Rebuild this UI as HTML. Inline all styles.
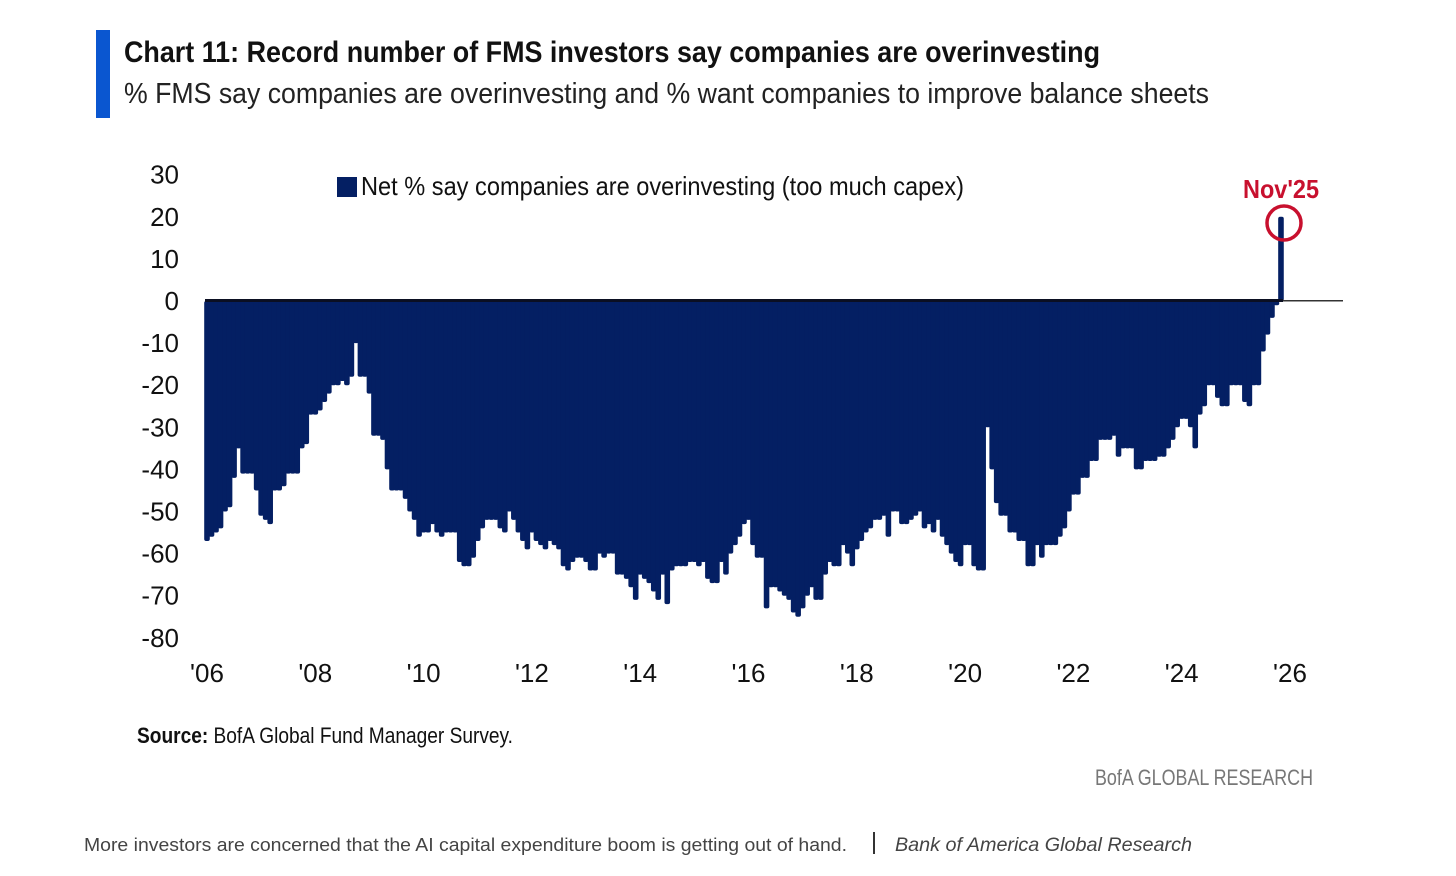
<!DOCTYPE html>
<html><head><meta charset="utf-8"><style>
body{margin:0;background:#fff;}
svg{display:block;font-family:"Liberation Sans Narrow","Liberation Sans",sans-serif;}
</style></head><body>
<svg id="chart" width="1456" height="876" viewBox="0 0 1456 876">
<rect x="96" y="30" width="14" height="88" fill="#0a56d0"/>
<text x="124" y="62" font-size="30" font-weight="bold" fill="#111" textLength="976" lengthAdjust="spacingAndGlyphs">Chart 11: Record number of FMS investors say companies are overinvesting</text>
<text x="124" y="103" font-size="29" fill="#222" textLength="1085" lengthAdjust="spacingAndGlyphs">% FMS say companies are overinvesting and % want companies to improve balance sheets</text>
<g id="yaxis"></g>
<g id="xaxis"></g>
<g id="bars"></g>
<rect x="337" y="177" width="20" height="20" fill="#041f63"/>
<text x="361" y="195" font-size="26" fill="#111" textLength="603" lengthAdjust="spacingAndGlyphs">Net % say companies are overinvesting (too much capex)</text>
<text x="1281" y="198" font-size="26" font-weight="bold" fill="#c8102e" text-anchor="middle" textLength="76" lengthAdjust="spacingAndGlyphs">Nov'25</text>
<circle cx="1284" cy="223" r="17" fill="none" stroke="#c8102e" stroke-width="3.5"/>
<text x="137" y="743" font-size="22" fill="#111" textLength="376" lengthAdjust="spacingAndGlyphs"><tspan font-weight="bold">Source:</tspan> BofA Global Fund Manager Survey.</text>
<text x="1095" y="785" font-size="22" fill="#777" textLength="218" lengthAdjust="spacingAndGlyphs">BofA GLOBAL RESEARCH</text>
<text x="84" y="851" font-size="18" fill="#444" font-family="Liberation Sans, sans-serif" textLength="763" lengthAdjust="spacingAndGlyphs">More investors are concerned that the AI capital expenditure boom is getting out of hand.</text>
<rect x="873" y="832" width="2" height="22" fill="#333"/>
<text x="895" y="851" font-size="19" fill="#444" font-style="italic" font-family="Liberation Sans, sans-serif" textLength="297" lengthAdjust="spacingAndGlyphs">Bank of America Global Research</text>
</svg>
<script>
const yTicks=[30,20,10,0,-10,-20,-30,-40,-50,-60,-70,-80];
const xTickLabels=["'06","'08","'10","'12","'14","'16","'18","'20","'22","'24","'26"];
const xTickYears=[2006,2008,2010,2012,2014,2016,2018,2020,2022,2024,2026];
const startYear=2006;
const values=[
-57,-56,-55,-54,-50,-49,-42,-35,-41,-41,-41,-45,
-51,-52,-53,-45,-45,-44,-41,-41,-41,-35,-34,-27,
-27,-26,-24,-22,-20,-20,-19,-20,-18,-10,-18,-18,
-22,-32,-32,-33,-40,-45,-45,-45,-47,-50,-52,-56,
-55,-55,-53,-55,-56,-55,-55,-55,-62,-63,-63,-61,
-57,-54,-52,-52,-52,-54,-55,-50,-52,-55,-57,-59,
-55,-57,-58,-59,-57,-58,-59,-63,-64,-62,-61,-61,
-62,-64,-64,-60,-61,-60,-60,-65,-65,-66,-68,-71,
-65,-66,-67,-69,-71,-65,-72,-64,-63,-63,-63,-62,
-62,-63,-62,-66,-67,-67,-62,-65,-60,-58,-56,-53,
-52,-58,-61,-61,-73,-68,-68,-69,-70,-71,-74,-75,
-73,-70,-68,-71,-71,-65,-62,-63,-63,-58,-60,-63,
-59,-57,-55,-54,-52,-52,-51,-56,-50,-50,-53,-53,
-52,-51,-50,-54,-53,-55,-52,-56,-58,-60,-62,-63,
-58,-58,-63,-64,-64,-30,-40,-48,-51,-51,-55,-55,
-57,-57,-63,-63,-58,-61,-58,-58,-58,-56,-54,-50,
-46,-46,-42,-42,-38,-38,-33,-33,-33,-32,-37,-35,
-35,-35,-40,-40,-38,-38,-38,-37,-37,-35,-33,-30,
-28,-28,-30,-35,-27,-25,-20,-20,-23,-25,-25,-20,
-20,-20,-24,-25,-20,-20,-12,-8,-4,-1,20];
const NS="http://www.w3.org/2000/svg";
function yScale(v){return 301-v*4.21;}
function xScale(monthIdx){return 207+monthIdx*(1290-207)/240;}
const ya=document.getElementById('yaxis');
yTicks.forEach(t=>{
  const el=document.createElementNS(NS,'text');
  el.setAttribute('x',179);el.setAttribute('y',yScale(t)+9);
  el.setAttribute('text-anchor','end');el.setAttribute('font-size','26');el.setAttribute('fill','#111');
  el.textContent=String(t);
  
  
  ya.appendChild(el);
});
const xa=document.getElementById('xaxis');
xTickLabels.forEach((lab,i)=>{
  const el=document.createElementNS(NS,'text');
  el.setAttribute('x',xScale((xTickYears[i]-startYear)*12));el.setAttribute('y',682);
  el.setAttribute('text-anchor','middle');el.setAttribute('font-size','26');el.setAttribute('fill','#111');
  el.textContent=lab;
  
  
  xa.appendChild(el);
});
const bg=document.getElementById('bars');
values.forEach((v,i)=>{
  const x=xScale(i);
  const y0=yScale(0),y1=yScale(v);
  const el=document.createElementNS(NS,'rect');
  el.setAttribute('x',x-2.8);el.setAttribute('width',5.6);
  el.setAttribute('y',Math.min(y0,y1));el.setAttribute('height',Math.abs(y1-y0));
  el.setAttribute('rx',2);
  el.setAttribute('fill','#041f63');
  
  
  bg.appendChild(el);
});
const zl=document.createElementNS(NS,'rect');
zl.setAttribute('x',205);zl.setAttribute('y',yScale(0)-2);zl.setAttribute('width',1078);zl.setAttribute('height',3);zl.setAttribute('fill','#0b0f22');


bg.appendChild(zl);
const zl2=document.createElementNS(NS,'rect');
zl2.setAttribute('x',1283);zl2.setAttribute('y',yScale(0)-1);zl2.setAttribute('width',60);zl2.setAttribute('height',1.5);zl2.setAttribute('fill','#333');


bg.appendChild(zl2);
</script>
</body></html>
